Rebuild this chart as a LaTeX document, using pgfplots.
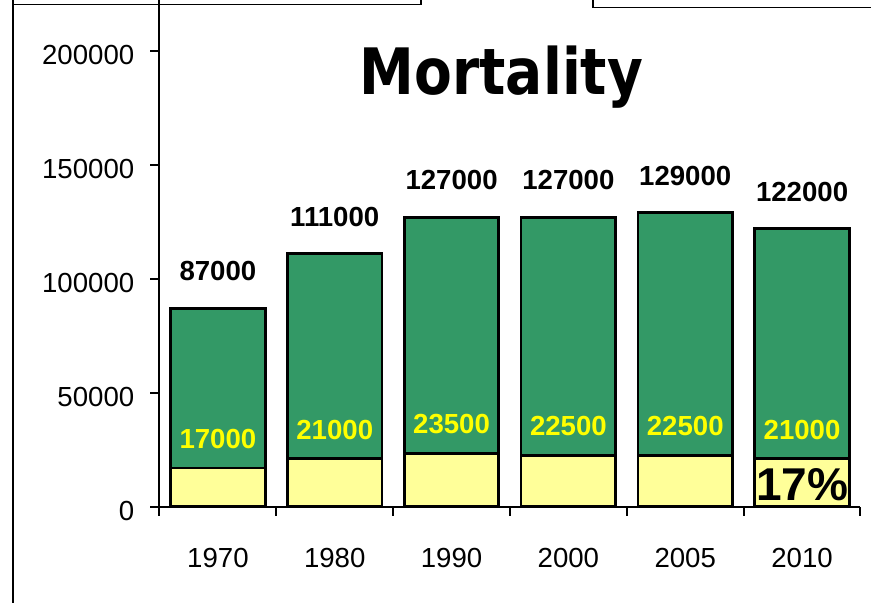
\documentclass[border=0pt]{standalone}
\usepackage{fontspec}
\setmainfont{Liberation Sans}
\newfontfamily\titlefont{DejaVu Sans}[FakeStretch=0.86]
\usepackage{pgfplots}
\usepackage{pgfplotstable}
\pgfplotsset{compat=1.18}

\definecolor{barGreen}{RGB}{51,153,102}
\definecolor{barYellow}{RGB}{255,255,153}
\definecolor{labYellow}{RGB}{255,255,0}

% idx: category position, total: all deaths, part: lower (yellow) share
\pgfplotstableread{
idx total part
0 87000 17000
1 111000 21000
2 127000 23500
3 127000 22500
4 129000 22500
5 122000 21000
}\mortality

\begin{document}
\begin{tikzpicture}
\begin{axis}[
  at={(0,0)}, anchor=south west,
  scale only axis,
  width=350.5pt, height=253.35pt,
  xmin=-0.5, xmax=5.5,
  ymin=0, ymax=222400,
  axis x line=bottom, axis y line=left,
  axis line style={-, line width=1pt},
  tick align=outside,
  major tick length=4.5pt,
  tick style={black, line width=1pt},
  xtick={-0.5,0.5,1.5,2.5,3.5,4.5,5.5},
  xticklabels={},
  extra x ticks={0,1,2,3,4,5},
  extra x tick labels={1970,1980,1990,2000,2005,2010},
  extra x tick style={major tick length=0pt,
    tick label style={yshift=-17.4pt}},
  ytick={0,50000,100000,150000,200000},
  scaled y ticks=false,
  yticklabel style={xshift=-4.6pt, yshift=-2pt},
  tick label style={font=\fontsize{13.8}{16}\selectfont},
  /pgf/number format/fixed,
  /pgf/number format/1000 sep={},
  /pgf/number format/assume math mode=true,
  clip=false,
]
  \addplot[ybar, bar width=0.81, bar shift=0pt,
    fill=barGreen, draw=black, line width=1.4pt,
    nodes near coords,
    nodes near coords style={font=\bfseries\fontsize{13.8}{16}\selectfont,
      text=black, inner sep=0pt, anchor=south, yshift=13pt}]
    table[x=idx, y=total] {\mortality};
  \addplot[ybar, bar width=0.81, bar shift=0pt,
    fill=barYellow, draw=black, line width=1.4pt,
    nodes near coords,
    nodes near coords style={font=\bfseries\fontsize{13.8}{16}\selectfont,
      text=labYellow, inner sep=0pt, anchor=south, yshift=9pt}]
    table[x=idx, y=part] {\mortality};
  \node[anchor=base, inner sep=0pt, font=\bfseries\fontsize{23}{26}\selectfont]
    at (axis cs:5,2900) {17\%};
\end{axis}
% title and slide frame lines
\node[anchor=base, inner sep=0pt, font=\titlefont\bfseries\fontsize{32}{36}\selectfont]
  at (171pt,205.85pt) {Mortality};
\draw[line width=1pt] (-73.25pt,-48.15pt) -- (-73.25pt,253.35pt);
\draw[line width=0.8pt] (-73.25pt,251.15pt) -- (130.75pt,251.15pt) -- (130.75pt,253.35pt);
\draw[line width=0.8pt] (216.75pt,253.35pt) -- (216.75pt,249.5pt) -- (355.75pt,249.5pt);
\pgfresetboundingbox
\useasboundingbox (-79.75pt,-48.15pt) rectangle (355.75pt,253.35pt);
\end{tikzpicture}
\end{document}
